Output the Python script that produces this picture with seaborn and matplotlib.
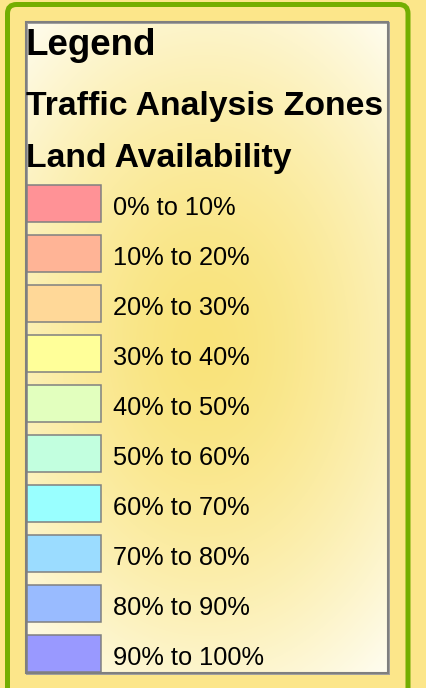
import numpy as np
import matplotlib.pyplot as plt
import seaborn as sns
from matplotlib.patches import FancyBboxPatch, Rectangle


# =========================
# Legend content
# =========================

title = "Legend"
layer_name = "Traffic Analysis Zones"
field_name = "Land Availability"

class_labels = [
    "0% to 10%", "10% to 20%", "20% to 30%", "30% to 40%", "40% to 50%",
    "50% to 60%", "60% to 70%", "70% to 80%", "80% to 90%", "90% to 100%",
]

class_colors = [
    "#FF9296", "#FFB496", "#FFD898", "#FFFF99", "#E2FFBE",
    "#C2FFDF", "#99FFFF", "#9BDCFF", "#99BBFF", "#9999FF",
]

# style (pixels)
SWATCH_W = 74
W, H = 426, 688


# =========================
# Figure
# =========================

sns.set_theme(style="white")
plt.rcParams["font.family"] = ["Liberation Sans", "DejaVu Sans"]
plt.rcParams["text.color"] = "black"

fig = plt.figure(figsize=(W / 100, H / 100), dpi=100)
fig.patch.set_facecolor("#FCE68A")

bg = fig.add_axes([0, 0, 1, 1])
bg.set_facecolor("#FCE68A")

# green rounded frame
frame = FancyBboxPatch(
    (7.5, 4.5), 400.5, 760,
    boxstyle="round,pad=0,rounding_size=9",
    fc="#FCE68A", ec="#74AE00", lw=5 * 0.72, zorder=1
)
bg.add_patch(frame)

# radial gradient panel
x0, x1, y0, y1 = 26, 388, 22, 673
gx, gy = np.meshgrid(np.arange(x0, x1), np.arange(y0, y1))
r = np.sqrt(((gx - 205) / 300.0) ** 2 + ((gy - 345) / 430.0) ** 2)
t = np.clip(r, 0, 1) ** 1.5
c_in = np.array([249, 227, 122]) / 255
c_out = np.array([255, 254, 246]) / 255
grad = c_in[None, None, :] * (1 - t[..., None]) + c_out[None, None, :] * t[..., None]
bg.imshow(grad, extent=(x0, x1, y1, y0), aspect="auto", zorder=2)

bg.add_patch(Rectangle((x0 + 1, y0 + 1), x1 - x0, y1 - y0, fill=False,
                       ec="#A0A0A0", lw=1.4, zorder=3))
bg.add_patch(Rectangle((x0, y0), x1 - x0, y1 - y0, fill=False,
                       ec="#7F7F7F", lw=1.5, zorder=3))

bg.text(25, 55, title, fontsize=26.5, weight="bold", va="baseline", color="black", zorder=4)
bg.text(26, 115, layer_name, fontsize=24.3, weight="bold", va="baseline", color="black", zorder=4)
bg.text(26, 167, field_name, fontsize=24.3, weight="bold", va="baseline", color="black", zorder=4)

bg.set_xlim(0, W)
bg.set_ylim(H, 0)
bg.axis("off")


# =========================
# Swatches
# =========================

top_px, bot_px = 178.5, 678.5
sw = fig.add_axes([27 / W, 1 - bot_px / H, (387 - 27) / W, (bot_px - top_px) / H])
sw.patch.set_alpha(0)

sns.barplot(
    x=[SWATCH_W] * len(class_labels),
    y=class_labels,
    hue=class_labels,
    palette=class_colors,
    saturation=1,
    legend=False,
    width=0.74,
    edgecolor="#808080",
    linewidth=1.1,
    orient="h",
    ax=sw
)

for p in sw.patches:
    p.set_clip_on(False)

for i, lab in enumerate(class_labels):
    sw.text(86, i + 0.23, lab, fontsize=18.3, va="baseline", color="black")

sw.set_xlim(0, 360)
sw.set_ylim(len(class_labels) - 0.5, -0.5)
sw.axis("off")

plt.savefig("out.png", dpi=100, facecolor=fig.get_facecolor())
plt.close()
